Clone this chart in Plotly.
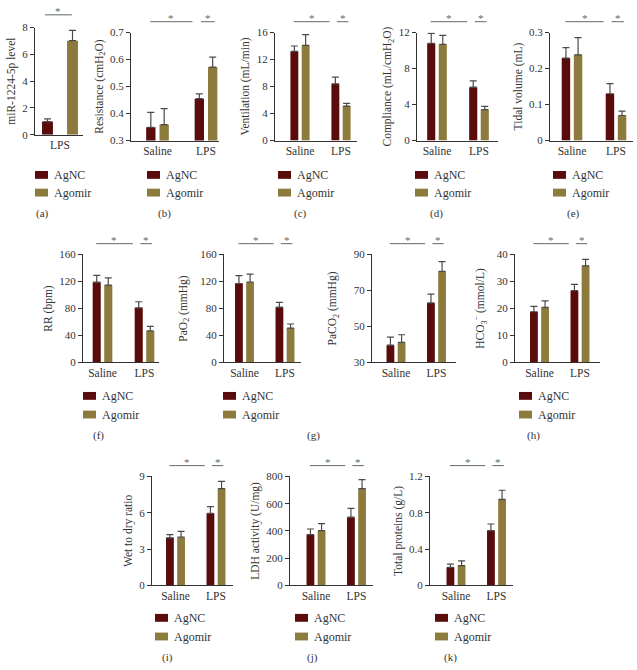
import plotly.graph_objects as go

W, H = 637, 670
FONT = "Liberation Serif, Times New Roman, serif"
C_AGNC = "#5a0c0c"
C_AGOMIR = "#8c7b3c"
C_TEXT = "#333333"
C_ERR = "#4a4a4a"
C_SIG = "#666666"

# ---------------- data ----------------
groups = ["Saline", "LPS"]
series_names = ["AgNC", "Agomir"]

a_groups = ["LPS"]
a_agnc, a_agnc_err = [0.98], [0.2]
a_agomir, a_agomir_err = [7.02], [0.78]

b_agnc, b_agnc_err = [0.349, 0.455], [0.055, 0.018]
b_agomir, b_agomir_err = [0.359, 0.572], [0.059, 0.037]

c_agnc, c_agnc_err = [13.2, 8.4], [0.8, 1.0]
c_agomir, c_agomir_err = [14.1, 5.1], [1.6, 0.4]

d_agnc, d_agnc_err = [10.8, 5.93], [1.1, 0.7]
d_agomir, d_agomir_err = [10.68, 3.44], [1.0, 0.36]

e_agnc, e_agnc_err = [0.229, 0.130], [0.029, 0.028]
e_agomir, e_agomir_err = [0.238, 0.0695], [0.048, 0.012]

f_agnc, f_agnc_err = [119, 81], [10, 9]
f_agomir, f_agomir_err = [114.7, 46.7], [10.5, 6.8]

g_agnc, g_agnc_err = [117, 82], [11.7, 7]
g_agomir, g_agomir_err = [119, 51], [12, 6]

h1_agnc, h1_agnc_err = [39.6, 63.1], [4.5, 4.9]
h1_agomir, h1_agomir_err = [41.2, 80.6], [4.2, 5.4]

h2_agnc, h2_agnc_err = [18.8, 26.6], [2.0, 2.3]
h2_agomir, h2_agomir_err = [20.4, 35.8], [2.4, 2.4]

i_agnc, i_agnc_err = [3.93, 5.96], [0.27, 0.54]
i_agomir, i_agomir_err = [3.98, 7.99], [0.49, 0.6]

j_agnc, j_agnc_err = [373, 501], [41, 65]
j_agomir, j_agomir_err = [402, 711], [51, 65]

k_agnc, k_agnc_err = [0.199, 0.604], [0.036, 0.072]
k_agomir, k_agomir_err = [0.217, 0.947], [0.054, 0.101]

# ---------------- panel layout (pixels) ----------------
panels = [
    dict(key="a", cats=a_groups, v=(a_agnc, a_agomir), e=(a_agnc_err, a_agomir_err),
         ax=(35, 83), yb=(22, 131), c0=60, unit=91, bw=0.12,
         yr=[0, 8], dt=2, title="miR-1224-5p level",
         sig=[(-0.165, 0.13)], sigy=9, leg=(35, 172, 190), lab=("(a)", 42, 211)),
    dict(key="b", cats=groups, v=(b_agnc, b_agomir), e=(b_agnc_err, b_agomir_err),
         ax=(131, 219), yb=(27, 137), c0=157.5, unit=48.5,
         yr=[0.3, 0.7], dt=0.1, title="Resistance (cmH<sub>2</sub>O)",
         sigy=16, leg=(147, 172, 190), lab=("(b)", 165, 211)),
    dict(key="c", cats=groups, v=(c_agnc, c_agomir), e=(c_agnc_err, c_agomir_err),
         ax=(275, 357), yb=(27, 137), c0=300, unit=41,
         yr=[0, 16], dt=4, title="Ventilation (mL/min)",
         sigy=16, leg=(278, 172, 190), lab=("(c)", 300, 211)),
    dict(key="d", cats=groups, v=(d_agnc, d_agomir), e=(d_agnc_err, d_agomir_err),
         ax=(417, 498), yb=(27, 137), c0=437, unit=42,
         yr=[0, 12], dt=4, title="Compliance (mL/cmH<sub>2</sub>O)",
         sigy=16, leg=(415, 172, 190), lab=("(d)", 436, 211)),
    dict(key="e", cats=groups, v=(e_agnc, e_agomir), e=(e_agnc_err, e_agomir_err),
         ax=(550, 633), yb=(27, 137), c0=572, unit=44,
         yr=[0, 0.3], dt=0.1, title="Tidal volume (mL)",
         sigy=16, leg=(553, 172, 190), lab=("(e)", 573, 211)),
    dict(key="f", cats=groups, v=(f_agnc, f_agomir), e=(f_agnc_err, f_agomir_err),
         ax=(83, 159), yb=(253, 363), c0=102.5, unit=42,
         yr=[0, 160], dt=40, title="RR (bpm)",
         sigy=242, leg=(83, 397, 416), lab=("(f)", 98, 437)),
    dict(key="g", cats=groups, v=(g_agnc, g_agomir), e=(g_agnc_err, g_agomir_err),
         ax=(224, 301), yb=(253, 363), c0=244.5, unit=40.5, so=10,
         yr=[0, 160], dt=40, title="PaO<sub>2</sub> (mmHg)",
         sigy=242, leg=(223, 397, 416), lab=("(g)", 313, 437)),
    dict(key="h1", cats=groups, v=(h1_agnc, h1_agomir), e=(h1_agnc_err, h1_agomir_err),
         ax=(372, 456), yb=(253, 363), c0=396, unit=40.5, so=14,
         yr=[30, 90], dt=20, title="PaCO<sub>2</sub> (mmHg)",
         sigy=242, leg=None, lab=None),
    dict(key="h2", cats=groups, v=(h2_agnc, h2_agomir), e=(h2_agnc_err, h2_agomir_err),
         ax=(515, 600), yb=(253, 363), c0=539.5, unit=40.5, so=9,
         yr=[0, 40], dt=10, title="HCO<sub>3</sub><sup>−</sup> (mmol/L)",
         sigy=242, leg=(519, 397, 416), lab=("(h)", 533, 437)),
    dict(key="i", cats=groups, v=(i_agnc, i_agomir), e=(i_agnc_err, i_agomir_err),
         ax=(152, 233), yb=(479, 590), c0=175.5, unit=40.5,
         yr=[0, 9], dt=3, title="Wet to dry ratio",
         sigy=468, leg=(155, 623, 642), lab=("(i)", 167, 663)),
    dict(key="j", cats=groups, v=(j_agnc, j_agomir), e=(j_agnc_err, j_agomir_err),
         ax=(290, 373), yb=(479, 590), c0=316, unit=40.5,
         yr=[0, 800], dt=200, title="LDH activity (U/mg)",
         sigy=468, leg=(295, 623, 642), lab=("(j)", 312, 663)),
    dict(key="k", cats=groups, v=(k_agnc, k_agomir), e=(k_agnc_err, k_agomir_err),
         ax=(430, 513), yb=(479, 590), c0=456, unit=40.5,
         yr=[0, 1.2], dt=0.4, title="Total proteins (g/L)",
         sigy=468, leg=(435, 623, 642), lab=("(k)", 450, 663)),
]

DEFAULT_SIG = [(-0.15, 0.72), (0.9, 1.18)]


def px(x):
    return x / W


def py(y):
    return 1 - y / H


fig = go.Figure()
shapes, annotations = [], []
layout_axes = {}

for n, p in enumerate(panels, start=1):
    sfx = "" if n == 1 else str(n)
    xa, ya = "x" + sfx, "y" + sfx
    colors = (C_AGNC, C_AGOMIR)
    for s in range(2):
        kw = {}
        if p.get("bw"):
            kw["width"] = p["bw"]
        fig.add_trace(go.Bar(
            x=p["cats"], y=p["v"][s], name=series_names[s],
            marker=dict(color=colors[s], line=dict(width=0)),
            error_y=dict(type="data", symmetric=False, array=p["e"][s],
                         arrayminus=[0] * len(p["e"][s]),
                         color=C_ERR, thickness=1.2, width=3.5),
            xaxis=xa, yaxis=ya, showlegend=False, **kw))

    u = p["unit"]
    xr = [(p["ax"][0] - p["c0"]) / u, (p["ax"][1] - p["c0"]) / u]
    layout_axes["xaxis" + sfx] = dict(
        domain=[px(p["ax"][0]), px(p["ax"][1])], anchor=ya, type="category",
        range=xr, showline=True, linecolor=C_TEXT, linewidth=1, ticks="",
        showgrid=False, zeroline=False, tickfont=dict(family=FONT, size=11.5, color=C_TEXT))
    layout_axes["yaxis" + sfx] = dict(
        domain=[py(p["yb"][1]), py(p["yb"][0])], anchor=xa, range=p["yr"],
        tick0=p["yr"][0], dtick=p["dt"], showline=True, linecolor=C_TEXT, linewidth=1,
        ticks="outside", ticklen=4, tickwidth=1, tickcolor=C_TEXT,
        showgrid=False, zeroline=False,
        tickfont=dict(family=FONT, size=11, color=C_TEXT),
        title=dict(text=p["title"], font=dict(family=FONT, size=11.5, color=C_TEXT),
                   standoff=p.get("so", 4)))

    # significance brackets
    for (x0, x1) in p.get("sig", DEFAULT_SIG):
        shapes.append(dict(type="line", xref=xa, yref="paper", x0=x0, x1=x1,
                           y0=py(p["sigy"]), y1=py(p["sigy"]),
                           line=dict(color=C_SIG, width=1)))
        annotations.append(dict(xref=xa, yref="paper", x=(x0 + x1) / 2, y=py(p["sigy"] - 4),
                                text="*", showarrow=False, xanchor="center", yanchor="middle",
                                font=dict(family=FONT, size=11, color=C_SIG)))

    # legend
    if p["leg"]:
        lx, ly1, ly2 = p["leg"]
        for s, ly in enumerate((ly1, ly2)):
            shapes.append(dict(type="rect", xref="paper", yref="paper",
                               x0=px(lx), x1=px(lx + 13), y0=py(ly + 4), y1=py(ly - 4),
                               fillcolor=colors[s], line=dict(width=0)))
            annotations.append(dict(xref="paper", yref="paper", x=px(lx + 17), y=py(ly),
                                    text=series_names[s], showarrow=False,
                                    xanchor="left", yanchor="middle",
                                    font=dict(family=FONT, size=12, color=C_TEXT)))
    if p["lab"]:
        t, lx, ly = p["lab"]
        annotations.append(dict(xref="paper", yref="paper", x=px(lx), y=py(ly), text=t,
                                showarrow=False, xanchor="center", yanchor="middle",
                                font=dict(family=FONT, size=11, color=C_TEXT)))

fig.update_layout(
    width=W, height=H, margin=dict(l=0, r=0, t=0, b=0),
    paper_bgcolor="white", plot_bgcolor="white",
    barmode="group", bargap=0.45, bargroupgap=0.3,
    shapes=shapes, annotations=annotations, showlegend=False,
    font=dict(family=FONT, color=C_TEXT),
    **layout_axes)

fig.write_html("out.html", config={"displayModeBar": False},
               post_script="document.body.style.margin='0';document.body.style.overflow='hidden';")
